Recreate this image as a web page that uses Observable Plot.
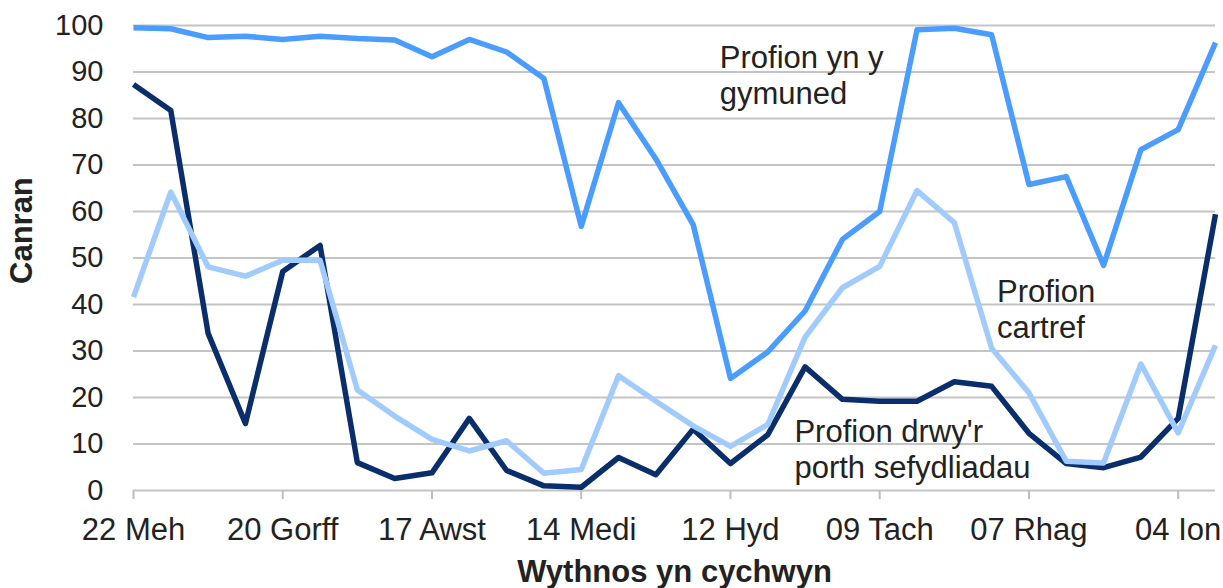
<!DOCTYPE html>
<html>
<head>
<meta charset="utf-8">
<script src="https://cdn.jsdelivr.net/npm/d3@7"></script>
<script src="https://cdn.jsdelivr.net/npm/@observablehq/plot@0.6"></script>
<style>
  html, body { margin: 0; padding: 0; background: #fff; }
  #chart { width: 1223px; height: 588px; }
</style>
</head>
<body>
<div id="chart"></div>
<script>
// Week commencing dates
const weeks = [
  "2020-06-22","2020-06-29","2020-07-06","2020-07-13","2020-07-20","2020-07-27",
  "2020-08-03","2020-08-10","2020-08-17","2020-08-24","2020-08-31","2020-09-07",
  "2020-09-14","2020-09-21","2020-09-28","2020-10-05","2020-10-12","2020-10-19",
  "2020-10-26","2020-11-02","2020-11-09","2020-11-16","2020-11-23","2020-11-30",
  "2020-12-07","2020-12-14","2020-12-21","2020-12-28","2021-01-04","2021-01-11"
];

// Profion yn y gymuned (community tests)
const community = [
  99.5, 99.3, 97.4, 97.7, 97.0, 97.7, 97.2, 96.9, 93.3, 97.0,
  94.3, 88.6, 56.8, 83.4, 71.3, 57.2, 24.1, 29.8, 38.6, 54.0,
  60.0, 99.1, 99.4, 98.0, 65.8, 67.5, 48.4, 73.3, 77.6, 96.3
];

// Profion drwy'r porth sefydliadau (institutional portal tests)
const portal = [
  87.3, 81.7, 33.8, 14.4, 47.1, 52.7, 6.0, 2.6, 3.8, 15.5,
  4.3, 1.0, 0.7, 7.1, 3.4, 13.2, 5.8, 12.0, 26.6, 19.6,
  19.2, 19.2, 23.4, 22.4, 12.3, 5.8, 4.9, 7.2, 15.5, 59.4
];

// Profion cartref (home tests)
const home = [
  41.6, 64.2, 48.1, 46.1, 49.5, 49.5, 21.6, 16.0, 11.0, 8.5,
  10.7, 3.7, 4.5, 24.7, 19.2, 13.9, 9.5, 14.2, 33.0, 43.6,
  48.2, 64.5, 57.6, 30.6, 21.0, 6.3, 5.9, 27.2, 12.4, 31.2
];

const tickDates = ["2020-06-22","2020-07-20","2020-08-17","2020-09-14","2020-10-12","2020-11-09","2020-12-07","2021-01-04"];
const tickLabels = ["22 Meh","20 Gorff","17 Awst","14 Medi","12 Hyd","09 Tach","07 Rhag","04 Ion"];
const yTicks = [0,10,20,30,40,50,60,70,80,90,100];

const seriesNames = ["Profion yn y gymuned", "Profion cartref", "Profion drwy'r porth sefydliadau"];
const seriesColors = ["#4a9cff", "#a2cbfd", "#0a2d6c"];

// Direct labels
const labelTexts = ["Profion yn y\ngymuned", "Profion\ncartref", "Profion drwy'r\nporth sefydliadau"];
const labelDates = ["2020-10-10", "2020-12-01", "2020-10-24"];
const labelValues = [96.3, 46.0, 15.8];

const yTitle = "Canran";
const xTitle = "Wythnos yn cychwyn";

const parse = d3.utcParse("%Y-%m-%d");

const rows = [];
const seriesData = [community, home, portal];
seriesData.forEach((vals, s) => {
  vals.forEach((v, i) => rows.push({series: seriesNames[s], date: parse(weeks[i]), value: v}));
});
const labels = labelTexts.map((t, i) => ({text: t, date: parse(labelDates[i]), value: labelValues[i]}));
const tickMap = new Map(tickDates.map((d, i) => [+parse(d), tickLabels[i]]));

const font = "'Liberation Sans', Arial, sans-serif";
const lineOpts = {x: "date", y: "value", stroke: "series", strokeWidth: 5.5, strokeLinejoin: "round", strokeLinecap: "butt"};

const chart = Plot.plot({
  width: 1223,
  height: 588,
  marginLeft: 133,
  marginRight: 8,
  marginTop: 25,
  marginBottom: 98,
  style: {fontFamily: font, background: "#fff", color: "#222", overflow: "visible"},
  x: {type: "utc", domain: [parse(weeks[0]), parse(weeks[weeks.length - 1])]},
  y: {domain: [0, 100]},
  color: {domain: seriesNames, range: seriesColors},
  marks: [
    Plot.ruleY(yTicks, {stroke: "#c4c4c4", strokeWidth: 2}),
    Plot.axisX({
      ticks: tickDates.map(parse),
      tickFormat: d => tickMap.get(+d),
      tickSize: 9,
      tickPadding: 18,
      fontSize: 31,
      stroke: "#bdbdbd",
      strokeWidth: 2,
      fill: "#222",
      label: null
    }),
    Plot.axisY({
      ticks: yTicks,
      tickSize: 0,
      tickPadding: 30,
      fontSize: 29,
      fill: "#222",
      label: null
    }),
    Plot.line(rows.filter(r => r.series === seriesNames[2]), lineOpts),
    Plot.line(rows.filter(r => r.series === seriesNames[1]), lineOpts),
    Plot.line(rows.filter(r => r.series === seriesNames[0]), lineOpts),
    Plot.text(labels, {x: "date", y: "value", text: "text", textAnchor: "start", lineAnchor: "top", lineHeight: 1.15, fontSize: 31, fill: "#222"}),
    Plot.text([yTitle], {frameAnchor: "left", rotate: -90, dx: -111, dy: 26, fontSize: 31, fontWeight: "bold", fill: "#222"}),
    Plot.text([xTitle], {frameAnchor: "bottom", dy: 91, fontSize: 31, fontWeight: "bold", fill: "#222"})
  ]
});

document.getElementById("chart").appendChild(chart);
</script>
</body>
</html>
